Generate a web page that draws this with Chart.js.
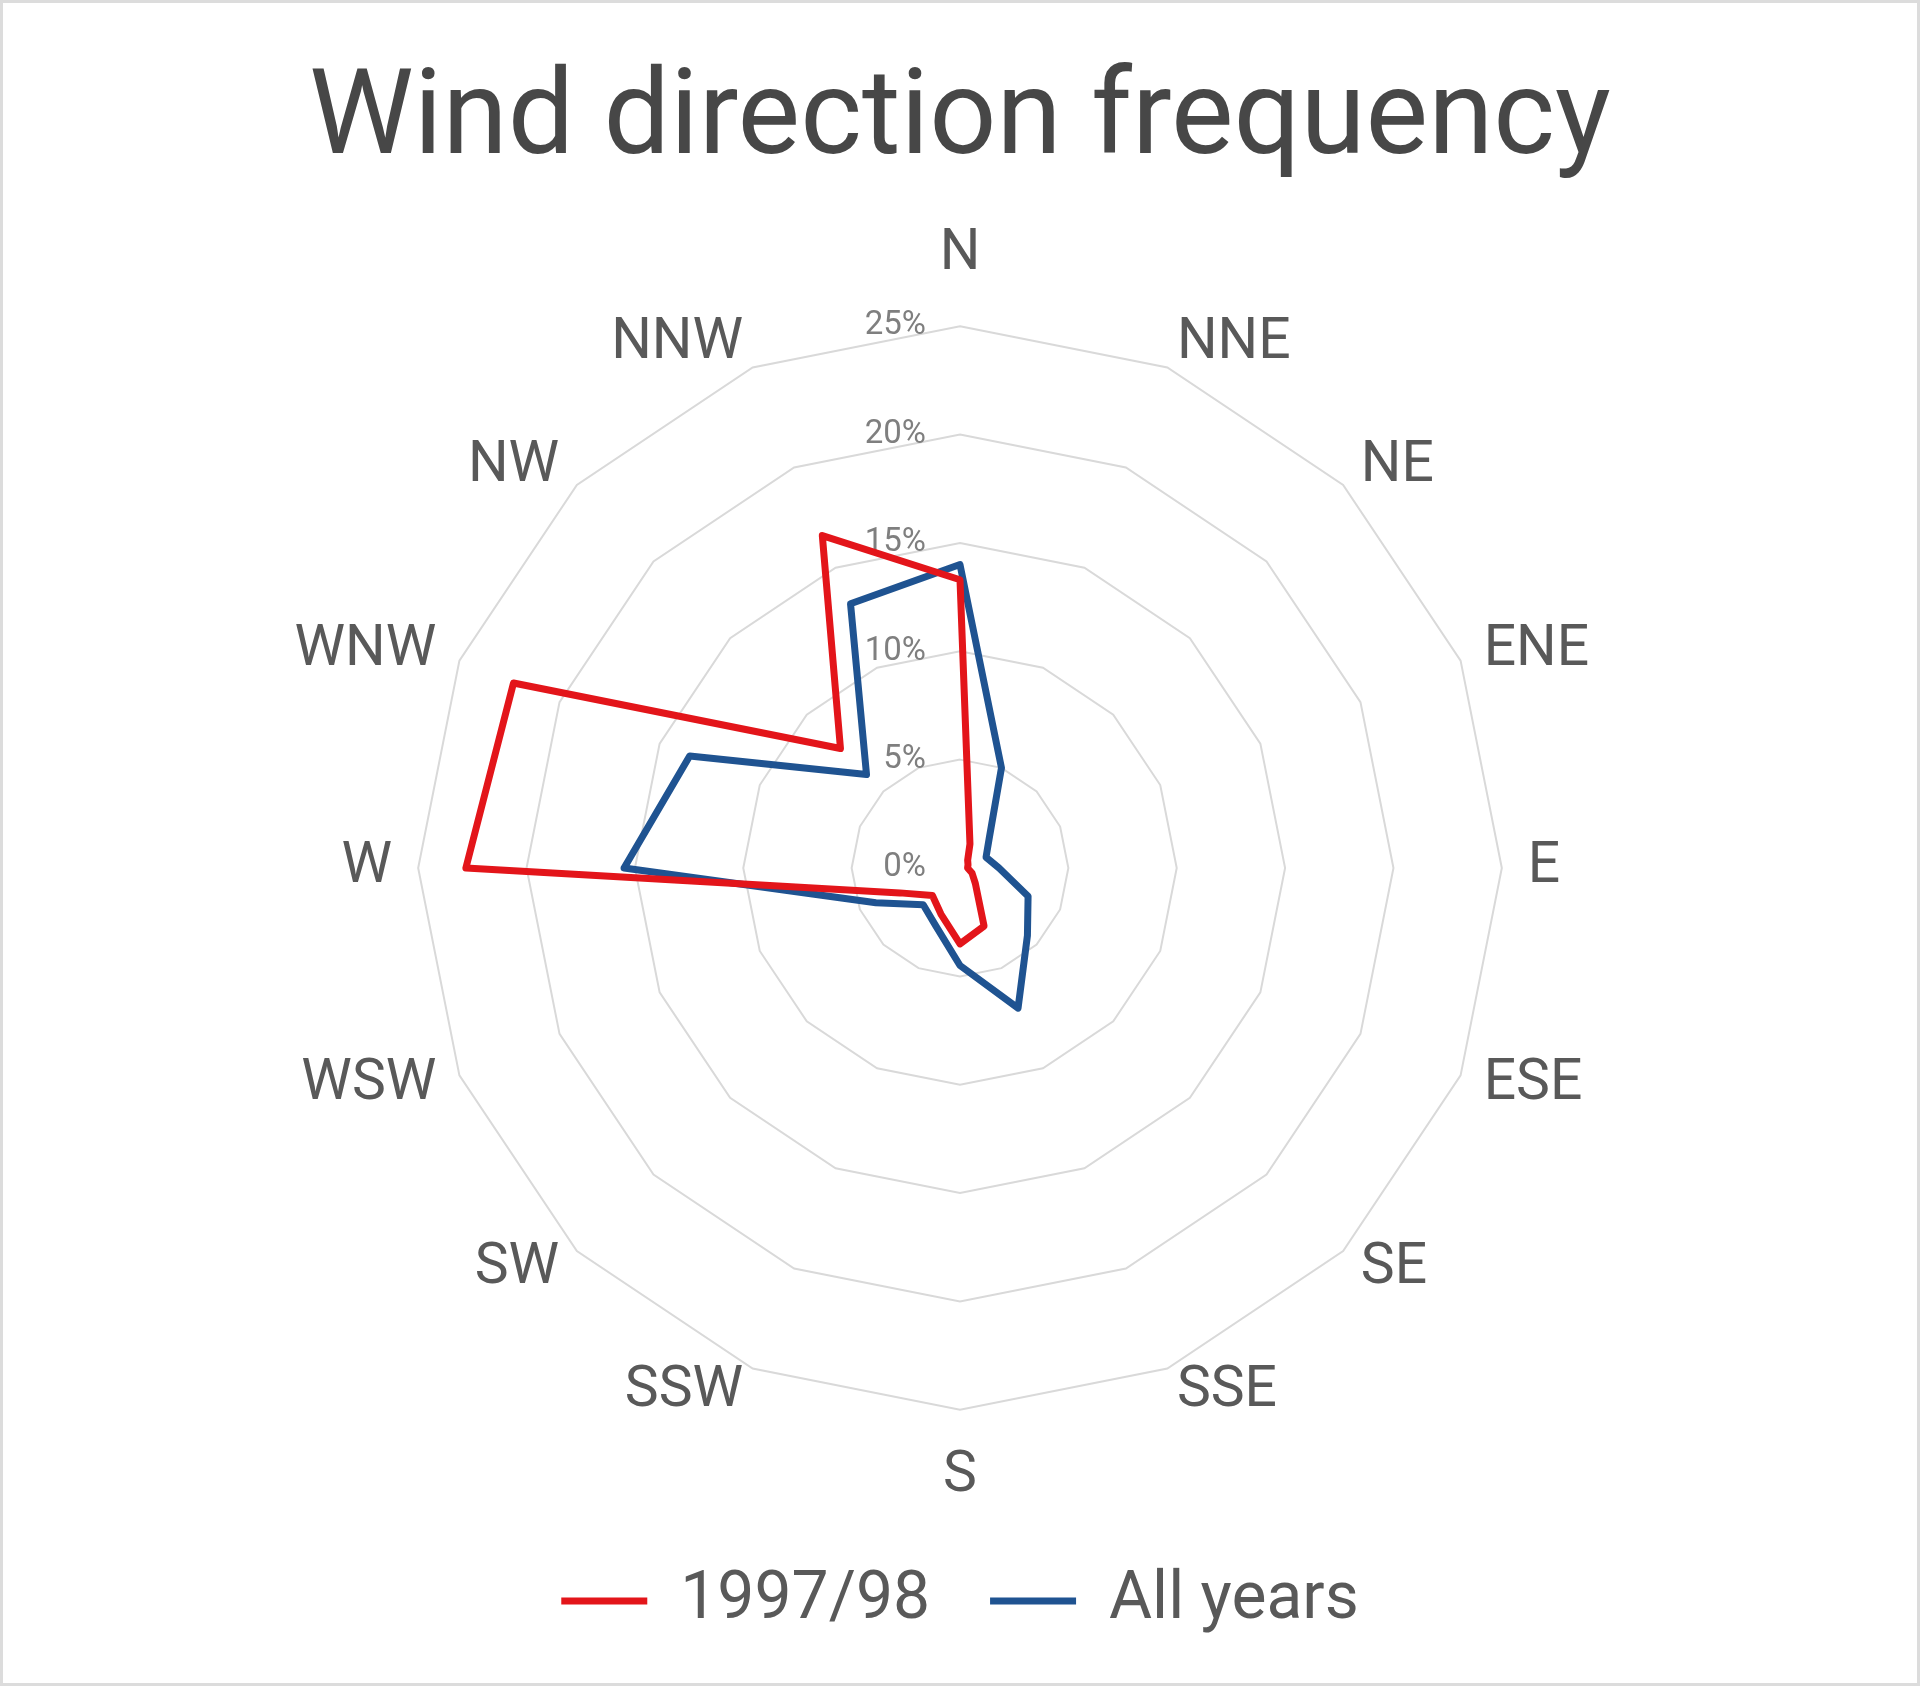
<!DOCTYPE html>
<html>
<head>
<meta charset="utf-8">
<script src="https://cdn.jsdelivr.net/npm/chart.js@4.4.1/dist/chart.umd.min.js"></script>
<style>
  html, body { margin: 0; padding: 0; background: #fff; }
  #wrap { width: 1920px; height: 1686px; box-sizing: border-box; border: 3px solid #dcdcdc; position: relative; }
  #wind { display: block; }
</style>
</head>
<body>
<div id="wrap"><canvas id="wind"></canvas></div>
<script>
const directions = ['N', 'NNE', 'NE', 'ENE', 'E', 'ESE', 'SE', 'SSE', 'S', 'SSW', 'SW', 'WSW', 'W', 'WNW', 'NW', 'NNW'];
const freq9798 = [13.3, 1.2, 0.5, 0.4, 0.35, 0.6, 1.0, 2.9, 3.5, 2.3, 1.8, 3.0, 22.8, 22.3, 7.8, 16.6];
const freqAll = [14.0, 5.0, 1.9, 1.3, 1.8, 3.4, 4.4, 7.0, 4.5, 2.9, 2.4, 4.2, 15.5, 13.5, 6.1, 13.2];
const tickValues = [0, 5, 10, 15, 20, 25];

const fontFamily = 'Roboto, "Noto Sans", sans-serif';

// percent labels sit just left of the vertical axis, under the lines
const tickLabels = {
  id: 'tickLabels',
  beforeDatasetsDraw(chart) {
    const r = chart.scales.r;
    const ctx = chart.ctx;
    ctx.save();
    ctx.font = '33px ' + fontFamily;
    ctx.fillStyle = '#7f7f7f';
    ctx.textAlign = 'right';
    ctx.textBaseline = 'middle';
    tickValues.forEach(v => {
      ctx.fillText(v + '%', r.xCenter - 34, r.yCenter - r.getDistanceFromCenterForValue(v));
    });
    ctx.restore();
  }
};

const chart1 = document.getElementById('wind');

new Chart(chart1, {
type: 'radar',
data: {
    labels: directions,
    datasets: [{
    label: '1997/98',
    data: freq9798,
    borderColor: '#e3151a',
    borderWidth: 7,
    borderJoinStyle: 'round',
    fill: false,
    pointRadius: 0,
    pointHoverRadius: 0
    }, {
    label: 'All years',
    data: freqAll,
    borderColor: '#1f5391',
    borderWidth: 7,
    borderJoinStyle: 'round',
    fill: false,
    pointRadius: 0,
    pointHoverRadius: 0
    }]
},
options: {
    responsive: true,
    maintainAspectRatio: false,
    animation: false,
    events: [],
    layout: {
    padding: { top: 0, bottom: 39, left: 0, right: 0 }
    },
    plugins: {
    title: {
        display: true,
        text: 'Wind direction frequency',
        color: '#474747',
        font: { family: fontFamily, size: 118, weight: 'normal' },
        padding: { top: 50, bottom: 58 }
    },
    legend: {
        position: 'bottom',
        title: { display: true, text: '', font: { size: 1 }, padding: { top: 26, bottom: 0 } },
        labels: {
        usePointStyle: true,
        pointStyle: 'line',
        pointStyleWidth: 86,
        color: '#595959',
        font: { family: fontFamily, size: 66 },
        padding: 60
        }
    },
    tooltip: { enabled: false }
    },
    scales: {
    r: {
        min: 0,
        max: 25,
        ticks: { stepSize: 5, display: false },
        grid: { color: '#d9d9d9', lineWidth: 2 },
        angleLines: { display: false },
        pointLabels: {
        color: '#595959',
        // tiny line height so every label is centred on its own spoke
        font: { family: fontFamily, size: 57, lineHeight: 0.01 },
        padding: (c) => c.index === 0 ? 71 : c.index === 8 ? 67 : (c.index % 4 === 0 ? 26 : 25)
        }
    }
    }
},
plugins: [tickLabels]
});
</script>
</body>
</html>
